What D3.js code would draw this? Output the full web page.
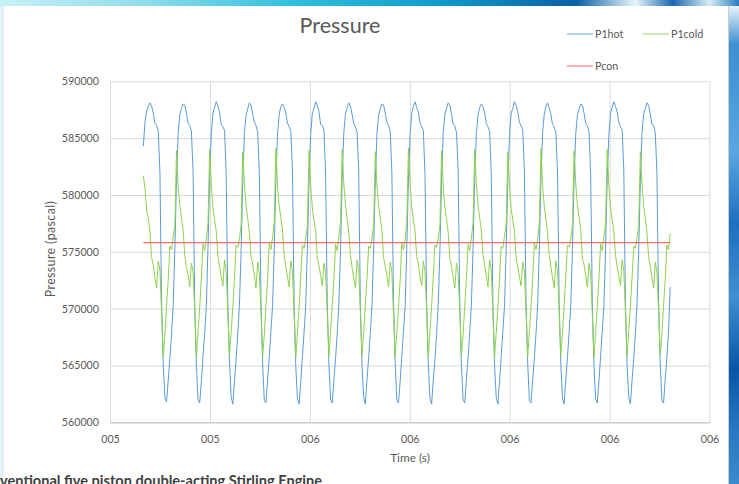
<!DOCTYPE html>
<html lang="en">
<head>
<meta charset="utf-8">
<style>
	body { margin: 0; background: #fff; }
	svg { display: block; }
	text { font-family: Lato, "Open Sans", sans-serif; }
</style>
</head>
<body>
<script src="https://d3js.org/d3.v7.min.js"></script>
<script>
// x axis ticks (time, s) and the labels the chart printed for them
const xTickValues = [5.2, 5.4, 5.6, 5.8, 6.0, 6.2, 6.4];
const xTickLabels = ["005", "005", "006", "006", "006", "006", "006"];
const yTicks = [560000, 565000, 570000, 575000, 580000, 585000, 590000];

// samples are evenly spaced in time
const sampleStart = 5.2668;
const sampleStep = 0.003316;

// P1hot, one line per cycle
const p1hot = [
	584300, 586500, 587400, 587800, 588100, 587800, 587200, 586300, 586100, 585600, 581900, 570400, 565100, 562100, 561800, 563700, 565700, 567800, 570300, 575200,
	581300, 585400, 587100, 587600, 588000, 587900, 587200, 586300, 586100, 585600, 582100, 570500, 565000, 562000, 561700, 563600, 565800, 567900, 570200, 575300,
	581500, 585300, 587200, 587700, 588200, 587800, 587300, 586200, 586000, 585700, 581800, 570300, 565200, 562200, 561600, 563700, 565600, 567800, 570400, 575100,
	581200, 585500, 587000, 587600, 588100, 587900, 587100, 586400, 586100, 585500, 582000, 570600, 565100, 561900, 561700, 563800, 565700, 568000, 570300, 575200,
	581400, 585400, 587100, 587800, 588000, 587700, 587200, 586300, 586000, 585600, 582200, 570400, 564900, 562100, 561600, 563600, 565800, 567900, 570200, 575300,
	581300, 585300, 587200, 587600, 588200, 587900, 587300, 586200, 586100, 585700, 581900, 570500, 565100, 562000, 561700, 563700, 565600, 567800, 570400, 575100,
	581500, 585500, 587100, 587700, 588100, 587800, 587100, 586300, 586000, 585500, 582100, 570300, 565000, 562200, 561600, 563800, 565700, 567900, 570300, 575200,
	581200, 585400, 587000, 587600, 588000, 587900, 587200, 586400, 586100, 585600, 582000, 570600, 565200, 561900, 561700, 563600, 565800, 568000, 570200, 575300,
	581400, 585300, 587200, 587800, 588200, 587700, 587300, 586300, 586000, 585700, 581800, 570400, 565100, 562100, 561600, 563700, 565600, 567800, 570400, 575100,
	581300, 585500, 587100, 587600, 588100, 587900, 587100, 586200, 586100, 585500, 582200, 570500, 564900, 562000, 561700, 563800, 565700, 567900, 570300, 575200,
	581500, 585400, 587000, 587700, 588000, 587800, 587200, 586300, 586000, 585600, 581900, 570300, 565000, 562200, 561600, 563600, 565800, 568000, 570200, 575300,
	581200, 585300, 587200, 587600, 588200, 587900, 587300, 586400, 586100, 585700, 582100, 570600, 565200, 561900, 561700, 563700, 565600, 567800, 570400, 575100,
	581400, 585500, 587100, 587800, 588100, 587700, 587100, 586200, 586000, 585500, 582000, 570400, 565100, 562100, 561600, 563800, 565700, 567900, 570300, 575200,
	581300, 585400, 587000, 587600, 588000, 587900, 587200, 586300, 586100, 585600, 581800, 570500, 564900, 562000, 561700, 563600, 565800, 568000, 570200, 575300,
	581500, 585300, 587200, 587700, 588200, 587800, 587300, 586400, 586000, 585700, 582200, 570300, 565000, 562200, 561600, 563700, 565600, 567800, 570400, 575100,
	581200, 585500, 587100, 587600, 588100, 587900, 587100, 586200, 586100, 585500, 581900, 570600, 565200, 561900, 561700, 563800, 565700, 567900, 571900
];

// P1cold, one line per cycle
const p1cold = [
	581700, 580600, 578600, 577900, 576700, 574500, 573800, 572700, 571800, 574200, 573400, 569500, 565800, 567800, 570300, 572500, 575500, 575200, 576300, 577300,
	583900, 580800, 579100, 578000, 576900, 574700, 573600, 573000, 571900, 574000, 573200, 569700, 565700, 568000, 570100, 572700, 575700, 575100, 576200, 577500,
	584000, 581000, 578900, 577800, 576800, 574600, 573700, 572800, 572000, 574300, 573300, 569400, 565900, 567900, 570200, 572600, 575600, 575400, 576100, 577400,
	583800, 580900, 579000, 577900, 576700, 574500, 573900, 572900, 571800, 574100, 573100, 569600, 565800, 567700, 570300, 572500, 575800, 575200, 576300, 577600,
	584100, 580700, 579000, 578000, 576900, 574600, 573700, 572800, 571900, 574200, 573300, 569500, 565700, 567900, 570100, 572800, 575600, 575300, 576200, 577300,
	583900, 580900, 578800, 577800, 576800, 574400, 573800, 572900, 572000, 574000, 573200, 569700, 565800, 568000, 570200, 572600, 575700, 575100, 576400, 577500,
	584000, 581000, 579100, 577900, 576700, 574700, 573600, 572700, 571800, 574300, 573400, 569600, 565900, 567800, 570300, 572700, 575500, 575300, 576200, 577400,
	583800, 580800, 579000, 578000, 576900, 574500, 573700, 572900, 571900, 574100, 573200, 569500, 565700, 567900, 570100, 572500, 575800, 575200, 576100, 577600,
	584100, 580900, 578900, 577800, 576800, 574600, 573900, 572800, 572000, 574200, 573300, 569700, 565800, 568000, 570200, 572800, 575600, 575400, 576300, 577300,
	583900, 580700, 579000, 577900, 576700, 574400, 573700, 572700, 571800, 574000, 573100, 569600, 565900, 567700, 570300, 572600, 575700, 575100, 576200, 577500,
	584000, 581000, 579100, 578000, 576900, 574700, 573800, 572900, 571900, 574300, 573400, 569500, 565700, 567900, 570100, 572700, 575500, 575300, 576400, 577400,
	583800, 580900, 578800, 577800, 576800, 574500, 573600, 572800, 572000, 574100, 573200, 569700, 565800, 568000, 570200, 572500, 575800, 575200, 576100, 577600,
	584100, 580800, 579000, 577900, 576700, 574600, 573700, 572700, 571800, 574200, 573300, 569600, 565900, 567800, 570300, 572800, 575600, 575400, 576200, 577300,
	583900, 581000, 579100, 578000, 576900, 574400, 573900, 572900, 571900, 574000, 573100, 569500, 565700, 567900, 570100, 572600, 575700, 575100, 576300, 577500,
	584000, 580700, 578900, 577800, 576800, 574700, 573700, 572800, 572000, 574300, 573400, 569700, 565800, 568000, 570200, 572700, 575500, 575300, 576200, 577400,
	583800, 580900, 579000, 577900, 576700, 574500, 573800, 572700, 571800, 574100, 573200, 569600, 565900, 567700, 570300, 572500, 575600, 575200, 576600
];

// Pcon is flat over the whole run
const pcon = [575800, 575800];

const seriesNames = ["P1hot", "P1cold", "Pcon"];
const seriesColors = ["#5B9BD5", "#8FD14F", "#FF4A4A"];

const width = 739, height = 484;
const plotLeft = 110, plotRight = 709.5, plotTop = 81.3, plotBottom = 422.3;

const svg = d3.select("body").append("svg")
	.attr("width", width)
	.attr("height", height);

// slide background behind the chart
const defs = svg.append("defs");
const topGrad = defs.append("linearGradient").attr("id", "topGrad");
[["0%", "#c8f0f6"], ["20%", "#8edcec"], ["40%", "#2fbfdc"], ["60%", "#109acb"], ["78%", "#0b5fa4"],
 ["86%", "#e8f4fb"], ["91%", "#1a68b0"], ["96%", "#d8ecf7"], ["100%", "#2a7cc0"]]
	.forEach(s => topGrad.append("stop").attr("offset", s[0]).attr("stop-color", s[1]));
const sideGrad = defs.append("linearGradient").attr("id", "sideGrad")
	.attr("x1", 0).attr("y1", 0).attr("x2", 0).attr("y2", 1);
[["0%", "#e6f3fb"], ["8%", "#3d8fd0"], ["30%", "#5aa6de"], ["45%", "#1e6fbe"], ["60%", "#3f8fd2"],
 ["75%", "#0a55a6"], ["88%", "#2a78c2"], ["100%", "#3d8ccd"]]
	.forEach(s => sideGrad.append("stop").attr("offset", s[0]).attr("stop-color", s[1]));

svg.append("rect").attr("width", width).attr("height", height).attr("fill", "#e2f6fa");
svg.append("rect").attr("width", width).attr("height", 7).attr("fill", "url(#topGrad)");
svg.append("rect").attr("x", 728).attr("y", 6).attr("width", 11).attr("height", height).attr("fill", "url(#sideGrad)");
svg.append("rect").attr("x", 3).attr("y", 6).attr("width", 725).attr("height", height)
	.attr("fill", "#fff");
svg.append("line").attr("x1", 3).attr("x2", 3).attr("y1", 6).attr("y2", 474).attr("stroke", "#d6dde0");
svg.append("line").attr("x1", 728.5).attr("x2", 728.5).attr("y1", 6).attr("y2", height).attr("stroke", "#c8ced2");

const x = d3.scaleLinear().domain([5.2, 6.4]).range([plotLeft, plotRight]);
const y = d3.scaleLinear().domain([560000, 590000]).range([plotBottom, plotTop]);

// y gridlines and labels
const yAxis = svg.append("g")
	.attr("transform", `translate(${plotLeft},0)`)
	.call(d3.axisLeft(y).tickValues(yTicks).tickFormat(d3.format("d"))
		.tickSize(-(plotRight - plotLeft)).tickSizeOuter(0).tickPadding(11));
yAxis.selectAll(".tick line").attr("stroke", "#d9d9d9");
yAxis.select(".domain").attr("stroke", "#bfbfbf");
yAxis.selectAll("text").attr("fill", "#595959").attr("font-size", 10.7)
	.attr("font-family", "Lato, sans-serif");

// x gridlines and labels
const xAxis = svg.append("g")
	.attr("transform", `translate(0,${plotBottom})`)
	.call(d3.axisBottom(x).tickValues(xTickValues).tickFormat((d, i) => xTickLabels[i])
		.tickSize(-(plotBottom - plotTop)).tickSizeOuter(0).tickPadding(13));
xAxis.selectAll(".tick line").attr("stroke", "#d9d9d9");
xAxis.select(".domain").attr("stroke", "#bfbfbf");
xAxis.selectAll("text").attr("fill", "#595959").attr("font-size", 10.7)
	.attr("font-family", "Lato, sans-serif");

// data lines
const line = d3.line()
	.x((d, i) => x(sampleStart + i * sampleStep))
	.y(d => y(d));

svg.append("path").datum(p1hot)
	.attr("d", line)
	.attr("fill", "none").attr("stroke", seriesColors[0]).attr("stroke-width", 1);
svg.append("path").datum(p1cold)
	.attr("d", line)
	.attr("fill", "none").attr("stroke", seriesColors[1]).attr("stroke-width", 1);

const pconLast = sampleStart + (p1hot.length - 1) * sampleStep;
svg.append("path").datum(pcon)
	.attr("d", d3.line().x((d, i) => x(i === 0 ? sampleStart : pconLast)).y(d => y(d)))
	.attr("fill", "none").attr("stroke", seriesColors[2]).attr("stroke-width", 1);

// title and axis titles
svg.append("text").attr("x", 340).attr("y", 32.5)
	.attr("text-anchor", "middle").attr("font-size", 21.5).attr("fill", "#595959")
	.text("Pressure");
svg.append("text").attr("transform", "translate(54.5,249) rotate(-90)")
	.attr("text-anchor", "middle").attr("font-size", 12.4).attr("letter-spacing", 0.4)
	.attr("fill", "#595959")
	.text("Pressure (pascal)");
svg.append("text").attr("x", 410).attr("y", 462)
	.attr("text-anchor", "middle").attr("font-size", 11.8).attr("fill", "#595959")
	.text("Time (s)");

// legend
const legendItems = [
	{ name: seriesNames[0], color: seriesColors[0], x: 567, y: 34 },
	{ name: seriesNames[1], color: seriesColors[1], x: 643, y: 34 },
	{ name: seriesNames[2], color: seriesColors[2], x: 567, y: 66 }
];
const legend = svg.append("g").selectAll("g").data(legendItems).enter().append("g")
	.attr("transform", d => `translate(${d.x},${d.y})`);
legend.append("line").attr("x1", 0).attr("x2", 26)
	.attr("stroke", d => d.color).attr("stroke-width", 1.2).attr("opacity", 0.75);
legend.append("text").attr("x", 28).attr("dy", "0.35em")
	.attr("font-size", 10.7).attr("fill", "#595959")
	.text(d => d.name);

// caption of the slide, cut at the bottom edge as on the slide
svg.append("text").attr("x", 0).attr("y", 486)
	.attr("font-size", 14.6).attr("font-weight", "bold").attr("fill", "#404040")
	.text("ventional five piston double-acting Stirling Engine");
</script>
</body>
</html>
